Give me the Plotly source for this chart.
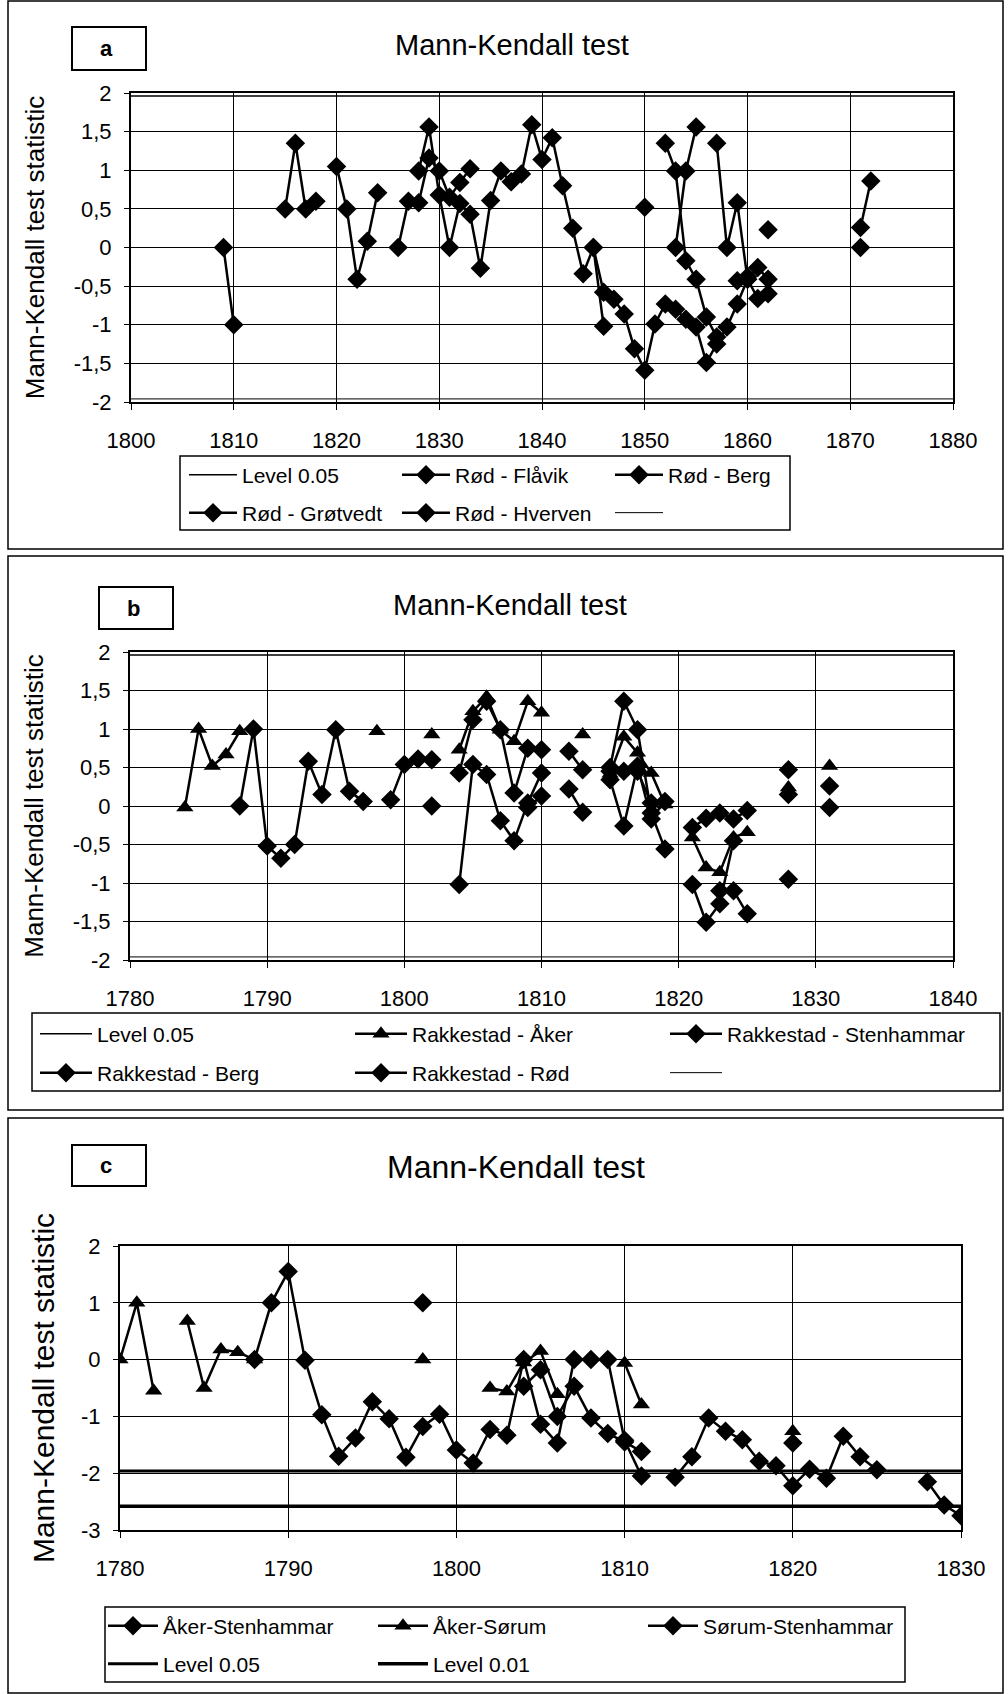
import plotly.graph_objects as go

W, H = 1008, 1694
FONT = "Liberation Sans, Arial, Helvetica, sans-serif"


def fx(px):
    return px / W


def fy(py):
    return 1 - py / H


# ---------------- Panel a data ----------------
A_X_RANGE = [1800, 1880]
A_LEVEL = 1.96
A_YTICKS = [-2, -1.5, -1, -0.5, 0, 0.5, 1, 1.5, 2]
A_YTICKTEXT = ["-2", "-1,5", "-1", "-0,5", "0", "0,5", "1", "1,5", "2"]

A_FLAVIK_YEARS = [1809, 1810, 1811, 1815, 1816, 1817, 1818, 1819, 1820, 1821, 1822, 1823, 1824, 1825,
                  1826, 1827, 1828, 1829, 1830, 1831, 1832, 1833, 1834, 1862, 1863, 1871, 1872]
A_FLAVIK_VALUES = [0, -1, None, 0.5, 1.35, 0.5, 0.6, None, 1.05, 0.5, -0.41, 0.08, 0.71, None,
                   0, 0.6, 0.58, 1.16, 0.99, 0.65, 0.84, 1.02, None, 0.23, None, 0.26, 0.86]

A_BERG_YEARS = [1828, 1829, 1830, 1831, 1832, 1833, 1834, 1835, 1836, 1837, 1838, 1839, 1840, 1841,
                1842, 1843, 1844, 1845, 1846, 1847, 1848, 1849, 1850, 1851, 1852, 1853, 1854, 1855,
                1856, 1857, 1858, 1859, 1860, 1861, 1862]
A_BERG_VALUES = [0.99, 1.56, 0.68, 0, 0.57, 0.43, -0.27, 0.61, 0.99, 0.85, 0.95, 1.59, 1.14, 1.42,
                 0.80, 0.25, -0.34, 0, -0.58, -0.67, -0.86, -1.31, -1.59, -0.99, -0.73, -0.8, -0.93, -1.03,
                 -1.49, -1.25, -1.03, -0.73, -0.41, -0.26, -0.41]

A_GROTVEDT_YEARS = [1845, 1846, 1847, 1850, 1851, 1852, 1853, 1854, 1855, 1856, 1857, 1858, 1859, 1860, 1861, 1871]
A_GROTVEDT_VALUES = [0, -1.02, None, 0.52, None, 1.35, 0.99, -0.17, -0.41, -0.9, -1.16, None, -0.43, -0.38, None, 0]

A_HVERVEN_YEARS = [1853, 1854, 1855, 1856, 1857, 1858, 1859, 1860, 1861, 1862]
A_HVERVEN_VALUES = [0, 0.99, 1.56, None, 1.35, 0, 0.58, -0.41, -0.66, -0.6]

# ---------------- Panel b data ----------------
B_X_RANGE = [1780, 1840]
B_LEVEL = 1.96

B_AKER_YEARS = [1784, 1785, 1786, 1787, 1788, 1789, 1798, 1799, 1802, 1803, 1804, 1805, 1806, 1807, 1808,
                1809, 1810, 1811, 1813, 1814, 1815, 1816, 1817, 1818, 1819, 1820, 1821, 1822, 1823, 1824,
                1825, 1826, 1828, 1829, 1831]
B_AKER_VALUES = [-0.02, 1.0, 0.52, 0.67, 0.97, None, 0.97, None, 0.93, None, 0.73, 1.23, 1.42, 0.99, 0.84,
                 1.36, 1.21, None, 0.93, None, 0.42, 0.9, 0.69, 0.43, 0.02, None, -0.41, -0.8, -0.86, -0.41,
                 -0.34, None, 0.24, None, 0.52]

B_STENHAMMAR_YEARS = [1788, 1789, 1790, 1791, 1792, 1793, 1794, 1795, 1796, 1797, 1798, 1799, 1800, 1801,
                      1802, 1803, 1804, 1805, 1806, 1807, 1808, 1809, 1810, 1811, 1812, 1813, 1814, 1815,
                      1816, 1817, 1818, 1819, 1820, 1821, 1822, 1823, 1824, 1825, 1826, 1828, 1829, 1831]
B_STENHAMMAR_VALUES = [0, 1.0, -0.52, -0.68, -0.5, 0.58, 0.15, 0.99, 0.19, 0.06, None, 0.08, 0.54, 0.61,
                       0.6, None, 0.43, 1.12, 1.36, 0.99, 0.17, 0.75, 0.73, None, 0.71, 0.47, None, 0.5,
                       1.36, 0.99, -0.09, -0.56, None, -0.28, -0.16, -0.09, -0.17, -0.06, None, 0.47, None, 0.26]

B_BERG_YEARS = [1802, 1803, 1804, 1805, 1806, 1807, 1808, 1809, 1810, 1811, 1812, 1813, 1814, 1815, 1816,
                1817, 1818, 1819, 1820, 1821, 1822, 1823, 1824, 1825, 1828, 1829, 1831]
B_BERG_VALUES = [0, None, -1.02, 0.54, 0.41, -0.19, -0.45, 0.04, 0.43, None, 0.22, -0.08, None, 0.34, -0.26,
                 0.52, -0.17, 0.06, None, -1.02, -1.51, -1.27, -0.45, None, -0.95, None, -0.02]

B_ROD_YEARS = [1809, 1810, 1811, 1815, 1816, 1817, 1818, 1819, 1823, 1824, 1825, 1826, 1828]
B_ROD_VALUES = [-0.02, 0.13, None, 0.45, 0.45, 0.45, 0.04, None, -1.1, -1.1, -1.4, None, 0.15]

# ---------------- Panel c data ----------------
C_X_RANGE = [1780, 1830]
C_LEVEL_05 = -1.96
C_LEVEL_01 = -2.58
C_YTICKS = [-3, -2, -1, 0, 1, 2]

C_AS_YEARS = [1788, 1789, 1790, 1791, 1792, 1793, 1794, 1795, 1796, 1797, 1798, 1799, 1800, 1801, 1802,
              1803, 1804, 1805, 1806, 1807, 1808, 1809, 1810, 1811, 1812, 1813, 1814, 1815, 1816, 1817,
              1818, 1819, 1820, 1821, 1822, 1823, 1824, 1825, 1826, 1828, 1829, 1830]
C_AS_VALUES = [0, 1.0, 1.55, -0.01, -0.97, -1.7, -1.38, -0.74, -1.04, -1.72, -1.18, -0.96, -1.59, -1.82, -1.23,
               -1.33, 0, -1.14, -1.47, 0, 0, 0, -1.42, -2.05, None, -2.07, -1.71, -1.03, -1.26, -1.41,
               -1.79, -1.87, -2.22, -1.93, -2.09, -1.35, -1.71, -1.94, None, -2.15, -2.56, -2.75]

C_AKS_YEARS = [1780, 1781, 1782, 1783, 1784, 1785, 1786, 1787, 1788, 1789, 1798, 1799, 1802, 1803, 1804,
               1805, 1806, 1807, 1810, 1811, 1812, 1820]
C_AKS_VALUES = [0, 1.0, -0.55, None, 0.68, -0.5, 0.18, 0.13, 0, None, 0, None, -0.5, -0.56, -0.05,
                0.15, -0.61, None, -0.06, -0.79, None, -1.26]

C_SS_YEARS = [1798, 1799, 1804, 1805, 1806, 1807, 1808, 1809, 1810, 1811, 1812, 1820]
C_SS_VALUES = [1.0, None, -0.47, -0.18, -1.0, -0.47, -1.03, -1.3, -1.45, -1.62, None, -1.47]

# ---------------- layout geometry (pixels) ----------------
PANELS = {
    "a": dict(plot=(131, 93, 953, 402), frame=(8, 1, 1003, 549), letterbox=(72, 27, 146, 70),
              title=(512, 45), title_size=29, ytitle_size=26, ystandoff=22),
    "b": dict(plot=(130, 652, 953, 960), frame=(8, 556, 1003, 1110), letterbox=(99, 587, 173, 629),
              title=(510, 605), title_size=29, ytitle_size=26, ystandoff=22),
    "c": dict(plot=(120, 1246, 961, 1530), frame=(8, 1118, 1003, 1693), letterbox=(72, 1145, 146, 1186),
              title=(516, 1167), title_size=32, ytitle_size=30, ystandoff=18),
}

fig = go.Figure()

# per-legend entry width (px) and symbol width
LEG_W = {"legend": 150, "legend2": 150, "legend3": 248, "legend4": 248, "legend5": 205, "legend6": 205}
LEG_ITEM = {"legend": 48, "legend2": 48, "legend3": 52, "legend4": 52, "legend5": 50, "legend6": 50}


def series(xa, ya, years, values, name, symbol, size, legend, rank):
    fig.add_trace(go.Scatter(
        x=years, y=values, name=name, mode="lines+markers", connectgaps=False,
        line=dict(color="black", width=2.5),
        marker=dict(symbol=symbol, size=size, color="black", line=dict(width=0)),
        xaxis=xa, yaxis=ya, legend=legend, legendrank=rank, legendwidth=LEG_W[legend],
        hoverinfo="skip"))


def level(xa, ya, xr, val, name, width, legend, rank):
    fig.add_trace(go.Scatter(
        x=xr, y=[val, val], name=name, mode="lines",
        line=dict(color="black", width=width),
        xaxis=xa, yaxis=ya, legend=legend, legendrank=rank, legendwidth=LEG_W[legend],
        hoverinfo="skip"))


# Panel a
level("x", "y", A_X_RANGE, A_LEVEL, "Level 0.05", 1.5, "legend", 1)
series("x", "y", A_FLAVIK_YEARS, A_FLAVIK_VALUES, "Rød - Flåvik", "diamond", 15, "legend", 2)
series("x", "y", A_BERG_YEARS, A_BERG_VALUES, "Rød - Berg", "diamond", 15, "legend", 3)
series("x", "y", A_GROTVEDT_YEARS, A_GROTVEDT_VALUES, "Rød - Grøtvedt", "diamond", 15, "legend2", 4)
series("x", "y", A_HVERVEN_YEARS, A_HVERVEN_VALUES, "Rød - Hverven", "diamond", 15, "legend2", 5)
level("x", "y", A_X_RANGE, -A_LEVEL, " ", 1, "legend2", 6)

# Panel b
level("x2", "y2", B_X_RANGE, B_LEVEL, "Level 0.05", 1.5, "legend3", 1)
series("x2", "y2", B_AKER_YEARS, B_AKER_VALUES, "Rakkestad - Åker", "triangle-up", 15, "legend3", 2)
series("x2", "y2", B_STENHAMMAR_YEARS, B_STENHAMMAR_VALUES, "Rakkestad - Stenhammar", "diamond", 15, "legend3", 3)
series("x2", "y2", B_BERG_YEARS, B_BERG_VALUES, "Rakkestad - Berg", "diamond", 15, "legend4", 4)
series("x2", "y2", B_ROD_YEARS, B_ROD_VALUES, "Rakkestad - Rød", "diamond", 15, "legend4", 5)
level("x2", "y2", B_X_RANGE, -B_LEVEL, " ", 1, "legend4", 6)

# Panel c
series("x3", "y3", C_AS_YEARS, C_AS_VALUES, "Åker-Stenhammar", "diamond", 15, "legend5", 1)
series("x3", "y3", C_AKS_YEARS, C_AKS_VALUES, "Åker-Sørum", "triangle-up", 15, "legend5", 2)
series("x3", "y3", C_SS_YEARS, C_SS_VALUES, "Sørum-Stenhammar", "diamond", 15, "legend5", 3)
level("x3", "y3", C_X_RANGE, C_LEVEL_05, "Level 0.05", 3, "legend6", 4)
level("x3", "y3", C_X_RANGE, C_LEVEL_01, "Level 0.01", 3.5, "legend6", 5)

tickfont = dict(family=FONT, size=22, color="black")


def xaxis_cfg(p, rng, anchor):
    l, t, r, b = PANELS[p]["plot"]
    return dict(domain=[fx(l), fx(r)], range=rng, anchor=anchor, dtick=10, tick0=rng[0],
                automargin=False,
                showgrid=True, gridcolor="black", gridwidth=1, zeroline=False,
                showline=True, linecolor="black", linewidth=2, mirror=True,
                ticks="outside", ticklen=6, tickcolor="black", tickwidth=1,
                tickfont=tickfont, ticklabelstandoff=12, fixedrange=True)


def yaxis_cfg(p, rng, anchor, tickvals, ticktext):
    l, t, r, b = PANELS[p]["plot"]
    return dict(domain=[fy(b), fy(t)], range=rng, anchor=anchor,
                automargin=False,
                tickvals=tickvals, ticktext=ticktext,
                showgrid=True, gridcolor="black", gridwidth=1, zeroline=False,
                showline=True, linecolor="black", linewidth=2, mirror=True,
                ticks="outside", ticklen=5, tickcolor="black", tickwidth=1,
                tickfont=tickfont, ticklabelstandoff=8, fixedrange=True,
                title=dict(text="Mann-Kendall test statistic",
                           font=dict(family=FONT, size=PANELS[p]["ytitle_size"], color="black"),
                           standoff=PANELS[p]["ystandoff"]))


shapes = []
annotations = []
for key, p in PANELS.items():
    fl, ft, fr, fb = p["frame"]
    shapes.append(dict(type="rect", xref="paper", yref="paper", x0=fx(fl), x1=fx(fr), y0=fy(fb), y1=fy(ft),
                       line=dict(color="black", width=1.5), layer="below"))
    bl, bt, br, bb = p["letterbox"]
    shapes.append(dict(type="rect", xref="paper", yref="paper", x0=fx(bl), x1=fx(br), y0=fy(bb), y1=fy(bt),
                       line=dict(color="black", width=2)))
    annotations.append(dict(xref="paper", yref="paper", x=fx(bl + 26), y=fy((bt + bb) / 2), text="<b>%s</b>" % key,
                            showarrow=False, xanchor="left", yanchor="middle",
                            font=dict(family=FONT, size=22, color="black")))
    tx, ty = p["title"]
    annotations.append(dict(xref="paper", yref="paper", x=fx(tx), y=fy(ty), text="Mann-Kendall test",
                            showarrow=False, xanchor="center", yanchor="middle",
                            font=dict(family=FONT, size=p["title_size"], color="black")))

# legend frames
LEGEND_BOXES = [(180, 456, 790, 530), (32, 1013, 1000, 1091), (105, 1607, 905, 1682)]
for (l, t, r, b) in LEGEND_BOXES:
    shapes.append(dict(type="rect", xref="paper", yref="paper", x0=fx(l), x1=fx(r), y0=fy(b), y1=fy(t),
                       line=dict(color="black", width=1.5)))

legfont = dict(family=FONT, size=21, color="black")


def legend_cfg(name, xpx, ypx):
    return dict(orientation="h", x=fx(xpx), y=fy(ypx), xanchor="left", yanchor="middle",
                bgcolor="rgba(0,0,0,0)", borderwidth=0, font=legfont, itemclick=False,
                itemdoubleclick=False, traceorder="normal", itemwidth=LEG_ITEM[name])


fig.update_layout(
    width=W, height=H, margin=dict(l=0, r=0, t=0, b=0, pad=0, autoexpand=False),
    paper_bgcolor="white", plot_bgcolor="white",
    font=dict(family=FONT, color="black"),
    xaxis=xaxis_cfg("a", A_X_RANGE, "y"),
    yaxis=yaxis_cfg("a", [-2, 2], "x", A_YTICKS, A_YTICKTEXT),
    xaxis2=xaxis_cfg("b", B_X_RANGE, "y2"),
    yaxis2=yaxis_cfg("b", [-2, 2], "x2", A_YTICKS, A_YTICKTEXT),
    xaxis3=xaxis_cfg("c", C_X_RANGE, "y3"),
    yaxis3=yaxis_cfg("c", [-3, 2], "x3", C_YTICKS, [str(v) for v in C_YTICKS]),
    legend=legend_cfg("legend", 184, 475),
    legend2=legend_cfg("legend2", 184, 513),
    legend3=legend_cfg("legend3", 35, 1034),
    legend4=legend_cfg("legend4", 35, 1073),
    legend5=legend_cfg("legend5", 103, 1626),
    legend6=legend_cfg("legend6", 103, 1664),
    shapes=shapes,
    annotations=annotations,
    showlegend=True,
)

fig.write_html("out.html")
